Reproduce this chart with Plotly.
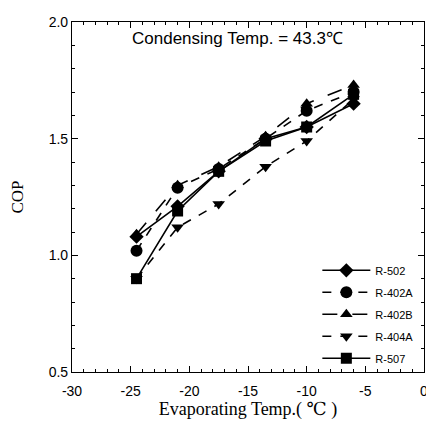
import plotly.graph_objects as go

evap_temp = [-24.5, -21, -17.5, -13.5, -10, -6]
series_names = ["R-502", "R-402A", "R-402B", "R-404A", "R-507"]
cop_r502 = [1.08, 1.21, 1.36, 1.50, 1.55, 1.65]
cop_r402a = [1.02, 1.29, 1.37, 1.50, 1.62, 1.70]
cop_r402b = [1.09, 1.30, 1.38, 1.51, 1.65, 1.73]
cop_r404a = [0.90, 1.12, 1.22, 1.38, 1.49, 1.67]
cop_r507 = [0.90, 1.19, 1.36, 1.49, 1.55, 1.69]
x_ticks = [-30, -25, -20, -15, -10, -5, 0]
x_tick_text = ["-30", "-25", "-20", "-15", "-10", "-5", "0"]
y_ticks = [0.5, 1.0, 1.5, 2.0]
y_tick_text = ["0.5", "1.0", "1.5", "2.0"]

values = [cop_r502, cop_r402a, cop_r402b, cop_r404a, cop_r507]
symbols = ["diamond", "circle", "triangle-up", "triangle-down", "square"]
dashes = ["solid", "dash", "longdash", "dash", "solid"]
sizes = [11, 12, 11, 11, 11]

fig = go.Figure()
for name, ys, sym, dash, sz in zip(series_names, values, symbols, dashes, sizes):
    fig.add_trace(go.Scatter(
        x=evap_temp, y=ys, name=name, legendgroup=name, mode="lines+markers",
        line=dict(color="black", width=1.6, dash=dash),
        marker=dict(symbol=sym, size=sz, color="black"),
    ))

axis_common = dict(
    showline=True, linecolor="black", linewidth=1.2, mirror="ticks",
    ticks="inside", ticklen=6, tickcolor="black", showgrid=False, zeroline=False,
    ticklabeloverflow="allow",
    tickfont=dict(family="Liberation Sans, Arial", size=14, color="black"),
)

fig.update_layout(
    width=426, height=420,
    margin=dict(l=64, r=6, t=7, b=56),
    paper_bgcolor="white", plot_bgcolor="white",
    xaxis=dict(range=[-30, 0], tickvals=x_ticks, ticktext=x_tick_text, ticklabelstandoff=6,
               minor=dict(dtick=1, ticks="inside", ticklen=3, tickcolor="black"),
               title=dict(text="Evaporating Temp.( ℃ )", standoff=2,
                          font=dict(family="Liberation Serif, DejaVu Serif", size=18, color="black")),
               **axis_common),
    yaxis=dict(range=[0.5, 2.0], tickvals=y_ticks, ticktext=y_tick_text,
               minor=dict(dtick=0.1, ticks="inside", ticklen=3, tickcolor="black"),
               title=dict(text="COP", standoff=22,
                          font=dict(family="Liberation Serif, DejaVu Serif", size=17, color="black")),
               **axis_common),
    legend=dict(x=0.697, y=0.332, xanchor="left", yanchor="top",
                bgcolor="rgba(0,0,0,0)", tracegroupgap=3,
                font=dict(family="Liberation Sans, Arial", size=11, color="black"),
                itemwidth=48),
    showlegend=True,
    annotations=[dict(text="Condensing Temp. = 43.3℃", x=0.47, y=0.985, xref="paper", yref="paper",
                      xanchor="center", yanchor="top", showarrow=False,
                      font=dict(family="Liberation Sans, Arial", size=17, color="black"))],
)

fig.write_html("out.html")
